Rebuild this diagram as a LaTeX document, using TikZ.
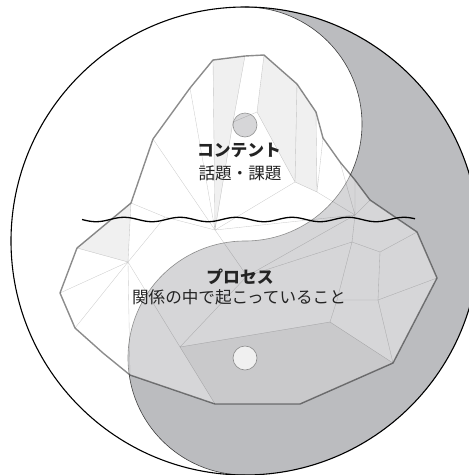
\documentclass[tikz,border=0pt]{standalone}
\usepackage{fontspec}
\newfontfamily\jp{Noto Sans CJK JP}
\definecolor{yin}{RGB}{187,188,191}
\definecolor{ink}{RGB}{35,35,35}
\tikzset{
  outerline/.style={line width=1.1pt, black},
  sline/.style={line width=0.6pt, black!75},
  dot/.style={line width=0.6pt, draw=black!70},
  berg/.style={fill=white, fill opacity=0.4},
  shade/.style={fill=black, fill opacity=0.06},
  mesh/.style={line width=0.35pt, draw=black, draw opacity=0.2},
  rim/.style={line width=1.4pt, draw=black, draw opacity=0.45, line join=round},
  wave/.style={line width=1.3pt, black},
  lbl/.style={font=\jp\fontsize{16.6}{19}\selectfont, text=ink, inner sep=0pt},
  lblb/.style={lbl, font=\jp\bfseries\fontsize{16.8}{19}\selectfont},
}
\begin{document}
\begin{tikzpicture}[x=1pt,y=-1pt]
\useasboundingbox (0,0) rectangle (469,475);
\clip (0,0) rectangle (469,475);

% yin-yang
\fill[yin] (245,7) arc[start angle=-90,end angle=90,radius=234]
  arc[start angle=90,end angle=270,radius=117]
  arc[start angle=90,end angle=-90,radius=117] -- cycle;
\draw[sline] (245,475) arc[start angle=90,end angle=270,radius=117]
  arc[start angle=90,end angle=-90,radius=117];
\draw[outerline] (245,241) circle[radius=234];
\filldraw[dot, fill=yin] (245,125) circle[radius=12];
\filldraw[dot, fill=white] (245,358) circle[radius=12];

% iceberg outline vertices
\coordinate (P1) at (213,60);
\coordinate (P2) at (245,56);
\coordinate (P3) at (264,55);
\coordinate (P4) at (297,84);
\coordinate (P5) at (316,112);
\coordinate (P6) at (323,138);
\coordinate (P7) at (340,162);
\coordinate (P8) at (355,180);
\coordinate (P9) at (370,200);
\coordinate (P10) at (417,232);
\coordinate (P11) at (437,278);
\coordinate (P12) at (393,363);
\coordinate (P13) at (300,404);
\coordinate (P14) at (215,404);
\coordinate (P15) at (130,375);
\coordinate (P16) at (103,353);
\coordinate (P17) at (75,328);
\coordinate (P18) at (60,293);
\coordinate (P19) at (77,248);
\coordinate (P20) at (131,203);
\coordinate (P21) at (153,139);
\coordinate (P22) at (190,88);
% inner vertices
\coordinate (A) at (215,230);
\coordinate (B) at (128,262);
\coordinate (S) at (165,217);
\coordinate (E) at (233,122);
\coordinate (D) at (257,112);
\coordinate (F) at (295,182);
\coordinate (R) at (317,192);
\coordinate (G) at (355,215);
\coordinate (H) at (352,242);
\coordinate (I) at (380,252);
\coordinate (J) at (378,300);
\coordinate (K) at (337,300);
\coordinate (M) at (330,322);
\coordinate (N) at (180,347);
\coordinate (Q) at (247,276);

\fill[berg] (P1) -- (P2) -- (P3) -- (P4) -- (P5) -- (P6) -- (P7) -- (P8) -- (P9)
  -- (P10) -- (P11) -- (P12) -- (P13) -- (P14) -- (P15) -- (P16) -- (P17)
  -- (P18) -- (P19) -- (P20) -- (P21) -- (P22) -- cycle;
\fill[shade] (P1) -- (P2) -- (E) -- (A) -- cycle;
\fill[shade] (P3) -- (P4) -- (F) -- (D) -- cycle;
\fill[shade] (P4) -- (P5) -- (R) -- (F) -- cycle;
\fill[shade] (P20) -- (P19) -- (B) -- cycle;
\fill[shade] (N) -- (M) -- (P12) -- (P13) -- (P14) -- cycle;

\draw[mesh] (P22) -- (A) (P1) -- (A) (P2) -- (E) -- (A) (E) -- (D) (P21) -- (A)
  (P20) -- (S) -- (A) (B) -- (S)
  (P3) -- (D) -- (F) (P4) -- (F) (F) -- (A) (F) -- (R)
  (P5) -- (R) (P6) -- (R) (R) -- (G) (A) -- (G)
  (G) -- (P7) (G) -- (P8)
  (B) -- (P20) (B) -- (P19) (B) -- (P18) (B) -- (P17) (B) -- (P15) (B) -- (N)
  (N) -- (M) (N) -- (P14) (N) -- (Q) (Q) -- (A) (Q) -- (H) (Q) -- (G)
  (P9) -- (G) -- (H) -- (I) -- (P10) (I) -- (J) -- (P11) (J) -- (P12)
  (J) -- (K) -- (H) (K) -- (M) -- (P12);

\draw[rim] (P1) -- (P2) -- (P3) -- (P4) -- (P5) -- (P6) -- (P7) -- (P8) -- (P9)
  -- (P10) -- (P11) -- (P12) -- (P13) -- (P14) -- (P15) -- (P16) -- (P17)
  -- (P18) -- (P19) -- (P20) -- (P21) -- (P22) -- cycle;

% water line
\draw[wave] plot[domain=82:415, samples=160, smooth] (\x, {219.5+2.2*sin((\x-82)/56*360)});

% labels
\node[lblb] (content) at (239,150) {コンテント};
\node[lbl] (topic) at (240,173.5) {話題・課題};
\node[lblb] (process) at (240,276.5) {プロセス};
\node[lbl] (relation) at (239,297.5) {関係の中で起こっていること};
\end{tikzpicture}
\end{document}
